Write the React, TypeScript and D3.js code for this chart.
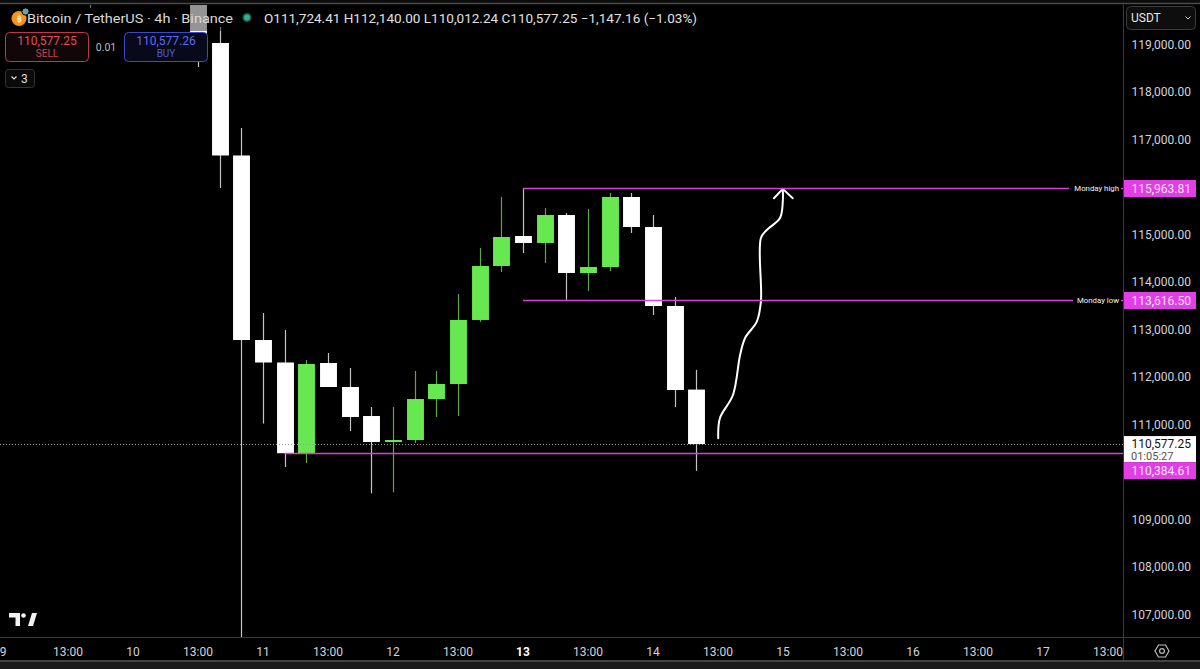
import React from "react";
import * as d3 from "d3";

// ---- DATA ----
// bar index 0 = day 11, first 4h bar
const BAR_IDX = [-8, -3, -2, -1, 0, 1, 2, 3, 4, 5, 6, 7, 8, 9, 10, 11, 12, 13, 14, 15, 16, 17, 18, 19, 20];
const OPEN = [121000, 120500, 119021, 116653, 112768, 112295, 110384.61, 112284, 111779, 111168, 110632, 110663, 111526, 111842, 113190, 114326, 114958, 114811, 115400, 114179, 114305, 115779, 115147, 113484, 111724.41];
const HIGH = [121300, 120700, 119358, 117232, 113337, 112979, 112347, 112495, 112179, 111358, 111358, 112116, 112116, 113737, 114705, 115779, 115963.81, 115547, 115442, 115526, 115863, 115863, 115400, 113674, 112140.0];
const LOW = [119760, 118516, 115968, 102000, 111010, 110095, 110179, 111779, 110853, 109540, 109560, 110600, 111147, 111168, 113150, 114200, 114600, 114389, 113616.5, 113800, 114221, 115021, 113295, 111358, 110012.24];
const CLOSE = [120600, 119021, 116653, 112768, 112295, 110384.61, 112263, 111779, 111147, 110621, 110663, 111526, 111842, 113190, 114326, 114937, 114811, 115400, 114179, 114305, 115779, 115147, 113484, 111716, 110577.25];

const PRICE_TICKS = [119000, 118000, 117000, 115000, 114000, 113000, 112000, 111000, 109000, 108000, 107000];
const DAY_LABELS = ["9", "10", "11", "12", "13", "14", "15", "16", "17"];
const DAY_FIRST_IDX = [-12, -6, 0, 6, 12, 18, 24, 30, 36];

const MONDAY_HIGH = 115963.81;
const MONDAY_LOW = 113616.5;
const SUPPORT = 110384.61;
const LAST_PRICE = 110577.25;
const MONDAY_START_IDX = 12;
const SUPPORT_START_IDX = 1;

// hand-drawn arrow path in (bar index, price) space
const ARROW_IDX = [21.01, 21.09, 21.69, 22.02, 22.25, 22.79, 22.98, 22.98, 23.25, 23.86, 23.99, 23.99];
const ARROW_PRICE = [110699, 111126, 111611, 112453, 112811, 113154, 113575, 114916, 115084, 115337, 115680, 115937];
const HEAD_IDX = [23.58, 23.99, 24.45];
const HEAD_PRICE = [115752, 115950, 115752];

const fmt = d3.format(",.2f");

export default function App() {
  const W = 1200, H = 669;
  const paneRight = 1123, paneTop = 5, paneBottom = 637;
  const x = d3.scaleLinear().domain([0, 1]).range([263, 284.667]);
  const y = d3.scaleLinear().domain([107000, 119000]).range([614, 44]);
  const step = x(1) - x(0);
  const bw = step * 0.78;

  const GREEN = "#68e850";
  const GREEN_WICK = "#5aa848";
  const WHITE = "#ffffff";
  const WHITE_WICK = "#c4c4c4";
  const MAG = "#dd3fdd";
  const MAG_LABEL = "#e23de6";
  const AXIS_TXT = "#d1d4dc";
  const FONT = "Roboto, 'Noto Sans', sans-serif";

  const arrowLine = d3.line<number>()
    .x((_, i) => x(ARROW_IDX[i]))
    .y((_, i) => y(ARROW_PRICE[i]))
    .curve(d3.curveCatmullRom.alpha(0.5));
  const headLine = d3.line<number>()
    .x((_, i) => x(HEAD_IDX[i]))
    .y((_, i) => y(HEAD_PRICE[i]));

  const lastY = y(LAST_PRICE);

  const levelLine = (price: number, startIdx: number, text: string | null, labelW: number) => {
    const yy = Math.round(y(price)) + 0.5;
    const x0 = x(startIdx);
    const textEnd = paneRight - 4;
    return text ? (
      <g>
        <line x1={x0} x2={textEnd - labelW - 3} y1={yy} y2={yy} stroke={MAG} strokeWidth={1.6} />
        <text x={textEnd} y={yy + 2.6} fill="#f4f4f4" fontSize={7.8} textAnchor="end" fontFamily={FONT}>{text}</text>
        <line x1={textEnd + 2} x2={paneRight} y1={yy} y2={yy} stroke={MAG} strokeWidth={1.6} />
      </g>
    ) : (
      <line x1={x0} x2={paneRight} y1={yy} y2={yy} stroke={MAG} strokeWidth={1.6} />
    );
  };

  const priceTag = (price: number, centerY: number) => (
    <g>
      <rect x={paneRight + 1} y={centerY - 8.5} width={72} height={17} fill={MAG_LABEL} />
      <text x={1191} y={centerY + 4.5} fill="#fbe6fb" fontSize={12} textAnchor="end" fontFamily={FONT}>{fmt(price)}</text>
    </g>
  );

  return (
    <div style={{ position: "absolute", left: 0, top: 0, width: W, height: H, background: "#000" }}>
      <svg width={W} height={H} style={{ display: "block" }} fontFamily={FONT}>
        <defs>
          <clipPath id="pane">
            <rect x={0} y={paneTop} width={paneRight} height={paneBottom - paneTop} />
          </clipPath>
        </defs>
        <rect x={0} y={0} width={W} height={H} fill="#000" />
        <rect x={0} y={0} width={W} height={3} fill="#0c0c0c" />
        <line x1={0} x2={W} y1={3.5} y2={3.5} stroke="#4a4a4a" strokeWidth={1.5} />

        {/* candles */}
        <g clipPath="url(#pane)">
          {BAR_IDX.map((bi, i) => {
            const up = CLOSE[i] >= OPEN[i];
            const cx = Math.round(x(bi)) + 0.5;
            const top = y(Math.max(OPEN[i], CLOSE[i]));
            const bot = y(Math.min(OPEN[i], CLOSE[i]));
            return (
              <g key={i}>
                <line x1={cx} x2={cx} y1={y(HIGH[i])} y2={y(LOW[i])} stroke={up ? GREEN_WICK : WHITE_WICK} strokeWidth={1.2} />
                <rect x={cx - bw / 2} y={top} width={bw} height={Math.max(2, bot - top)} fill={up ? GREEN : WHITE} />
              </g>
            );
          })}

          {/* last price dotted line */}
          <line x1={0} x2={paneRight} y1={Math.round(lastY) + 0.5} y2={Math.round(lastY) + 0.5}
            stroke="#9a9a9a" strokeWidth={1} strokeDasharray="1 2" />

          {/* arrow */}
          <path d={arrowLine(ARROW_IDX) || ""} fill="none" stroke="#fff" strokeWidth={2} strokeLinecap="round" />
          <path d={headLine(HEAD_IDX) || ""} fill="none" stroke="#fff" strokeWidth={2} strokeLinecap="round" strokeLinejoin="round" />
        </g>

        {/* horizontal level lines */}
        {levelLine(MONDAY_HIGH, MONDAY_START_IDX, "Monday high", 47)}
        {levelLine(MONDAY_LOW, MONDAY_START_IDX, "Monday low", 43)}
        {levelLine(SUPPORT, SUPPORT_START_IDX, null, 0)}

        {/* right price axis */}
        <line x1={paneRight + 0.5} x2={paneRight + 0.5} y1={4} y2={661} stroke="#3a3a3a" strokeWidth={1} />
        {PRICE_TICKS.map((p) => (
          <text key={p} x={1191} y={y(p) + 4.5} fill={AXIS_TXT} fontSize={12} textAnchor="end">{fmt(p)}</text>
        ))}
        {priceTag(MONDAY_HIGH, Math.round(y(MONDAY_HIGH)) + 0.5)}
        {priceTag(MONDAY_LOW, Math.round(y(MONDAY_LOW)) + 0.5)}
        {/* last price label */}
        <rect x={paneRight + 1} y={lastY - 8} width={72} height={26} fill="#ffffff" />
        <text x={1191} y={lastY + 4} fill="#111" fontSize={12} textAnchor="end">{fmt(LAST_PRICE)}</text>
        <text x={1131} y={lastY + 15.5} fill="#555" fontSize={11}>01:05:27</text>
        {/* support tag pushed below the last-price tag */}
        {priceTag(SUPPORT, lastY + 18 + 8.5)}

        {/* USDT selector */}
        <rect x={1126.5} y={6.5} width={69} height={23} rx={4} fill="#0e0e0e" stroke="#3c3c3c" />
        <text x={1131} y={22} fill="#e6e6e6" fontSize={12}>USDT</text>
        <path d="M1185.5,16.5 L1188,19 L1190.5,16.5" fill="none" stroke="#ccc" strokeWidth={1} />

        {/* time axis */}
        <line x1={0} x2={W} y1={637.5} y2={637.5} stroke="#3a3a3a" strokeWidth={1} />
        <line x1={0} x2={W} y1={661} y2={661} stroke="#5a5a5a" strokeWidth={1.5} />
        <rect x={0} y={662} width={W} height={7} fill="#1a1a1a" />
        {DAY_LABELS.map((d, i) => (
          <g key={d}>
            <text x={x(DAY_FIRST_IDX[i])} y={656} fill={d === "13" ? "#ffffff" : AXIS_TXT} fontWeight={d === "13" ? 700 : 400}
              fontSize={12} textAnchor="middle">{d}</text>
            {x(DAY_FIRST_IDX[i] + 3) < paneRight && (
              <text x={x(DAY_FIRST_IDX[i] + 3)} y={656} fill={AXIS_TXT} fontSize={12} textAnchor="middle">13:00</text>
            )}
          </g>
        ))}
        <rect x={paneRight + 1} y={639} width={76} height={21} fill="#000" />
        {/* gear icon */}
        <g transform="translate(1162,651)" fill="none" stroke="#bbb" strokeWidth={1.2}>
          <path d="M-3.5,-6 L3.5,-6 L7,0 L3.5,6 L-3.5,6 L-7,0 Z" />
          <circle r={2.4} />
        </g>

        {/* TradingView logo */}
        <g fill="#f2f2f2">
          <path d="M9,613 L20,613 L20,626 L15.5,626 L15.5,617.5 L9,617.5 Z" />
          <circle cx={23.5} cy={615.5} r={2.3} />
          <path d="M28,626 L32,613 L37,613 L33,626 Z" />
        </g>

        {/* legend */}
        <rect x={0} y={5} width={706} height={26} fill="#000" opacity={0.42} />
        <circle cx={19} cy={18.5} r={7.5} fill="#f7931a" />
        <text x={19} y={22} fill="#fde4c0" fontSize={9} textAnchor="middle" fontWeight={700}>₿</text>
        <circle cx={25.5} cy={11.5} r={3.6} fill="#6aa6a6" stroke="#000" strokeWidth={1} />
        <text x={27} y={23} fill="#d9d9d9" fontSize={13.5} textLength={206} lengthAdjust="spacingAndGlyphs">Bitcoin / TetherUS · 4h · Binance</text>
        <circle cx={247} cy={17.5} r={4.5} fill="#1a5a4c" />
        <circle cx={247} cy={17.5} r={3} fill="#2fb08f" />
        <text x={264} y={23} fill="#e0e0e0" fontSize={12.5} textLength={433} lengthAdjust="spacingAndGlyphs">O111,724.41  H112,140.00  L110,012.24  C110,577.25  −1,147.16 (−1.03%)</text>

        {/* sell / buy */}
        <rect x={5.5} y={32.5} width={83} height={29} rx={4} fill="#120708" stroke="#b83a45" strokeWidth={1} />
        <text x={47} y={45} fill="#e0505c" fontSize={12} textAnchor="middle">110,577.25</text>
        <text x={47} y={57} fill="#c94450" fontSize={10} textAnchor="middle">SELL</text>
        <text x={106} y={51} fill="#bdbdbd" fontSize={10.5} textAnchor="middle">0.01</text>
        <rect x={124.5} y={32.5} width={83} height={29} rx={4} fill="#08091a" stroke="#3b4bc4" strokeWidth={1} />
        <text x={166} y={45} fill="#5b6cf2" fontSize={12} textAnchor="middle">110,577.26</text>
        <text x={166} y={57} fill="#4b5cd8" fontSize={10} textAnchor="middle">BUY</text>

        {/* collapse button */}
        <rect x={5.5} y={69.5} width={29} height={18} rx={3} fill="#0a0a0a" stroke="#333" />
        <path d="M11.5,76.5 L14,79 L16.5,76.5" fill="none" stroke="#ddd" strokeWidth={1.2} />
        <text x={21} y={83} fill="#ddd" fontSize={12}>3</text>
      </svg>
    </div>
  );
}
